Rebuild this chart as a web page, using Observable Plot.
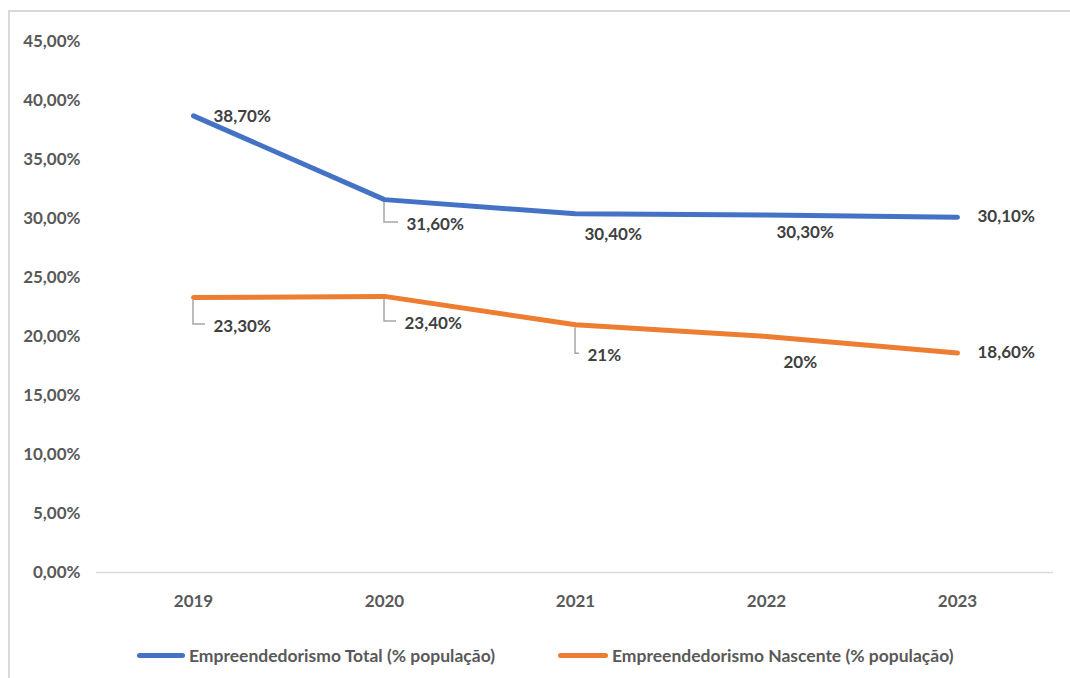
<!DOCTYPE html>
<html>
<head>
<meta charset="utf-8">
<script src="https://cdn.jsdelivr.net/npm/d3@7"></script>
<script src="https://cdn.jsdelivr.net/npm/@observablehq/plot@0.6"></script>
<style>
  body { margin: 0; background: #fff; font-family: Lato, "Open Sans", sans-serif; }
  #wrap { position: relative; width: 1070px; height: 678px; overflow: hidden; background: #fff; }
  #frame { position: absolute; left: 8px; top: 10px; width: 1100px; height: 700px;
           border-left: 2px solid #d9d9d9; border-top: 2px solid #d9d9d9; }
  #chart { position: absolute; left: 0; top: 0; }
  #legend { position: absolute; left: 0; top: 643px; width: 1070px; height: 24px;
            font-size: 17.5px; color: #595959; font-weight: 700; }
  .item { position: absolute; top: 0; display: flex; align-items: center; height: 24px; white-space: nowrap; }
  .swatch { display: inline-block; height: 5px; border-radius: 3px; margin-right: 4px; }
</style>
</head>
<body>
<div id="wrap">
  <div id="frame"></div>
  <div id="chart"></div>
  <div id="legend"></div>
</div>
<script>
// ---- data ----
const years = ["2019", "2020", "2021", "2022", "2023"];
const totalValues = [38.7, 31.6, 30.4, 30.3, 30.1];
const nascenteValues = [23.3, 23.4, 21, 20, 18.6];
const totalLabels = ["38,70%", "31,60%", "30,40%", "30,30%", "30,10%"];
const nascenteLabels = ["23,30%", "23,40%", "21%", "20%", "18,60%"];
const seriesNames = ["Empreendedorismo Total (% população)", "Empreendedorismo Nascente (% população)"];
const yTicks = [0, 5, 10, 15, 20, 25, 30, 35, 40, 45];

// ---- layout of data labels (pixel offsets from the point, leader line flag) ----
const totalOffsets = [[20, 1, false], [22, 25, true], [9, 21, false], [10, 18, false], [20, -1, false]];
const nascenteOffsets = [[20, 29, true], [20, 27, true], [12, 31, true], [17, 26, false], [20, 0, false]];
const colors = ["#4472C4", "#ED7D31"];

function build(values, labels, offsets, series) {
  return years.map((year, i) => ({
    year, value: values[i], label: labels[i], series,
    dx: offsets[i][0], dy: offsets[i][1], leader: offsets[i][2]
  }));
}
const total = build(totalValues, totalLabels, totalOffsets, seriesNames[0]);
const nascente = build(nascenteValues, nascenteLabels, nascenteOffsets, seriesNames[1]);
const all = total.concat(nascente);

const fmt = d => d.toFixed(2).replace(".", ",") + "%";

function leaders(data) {
  return (index, scales) => {
    const g = d3.create("svg:g")
      .attr("fill", "none").attr("stroke", "#a6a6a6").attr("stroke-width", 1.5);
    for (const d of data) {
      if (!d.leader) continue;
      const px = scales.x(d.year), py = scales.y(d.value);
      g.append("path").attr("d", `M${px},${py + 3}V${py + d.dy - 2}H${px + d.dx - 8}`);
    }
    return g.node();
  };
}

const labelMarks = all.map(d => Plot.text([d], {
  x: "year", y: "value", text: "label", dx: d.dx, dy: d.dy,
  textAnchor: "start", fill: "#404040", fontSize: 17, fontWeight: 700
}));

const chart = Plot.plot({
  width: 1070,
  height: 635,
  marginLeft: 96,
  marginRight: 17,
  marginTop: 41,
  marginBottom: 63,
  style: { fontFamily: "Lato, 'Open Sans', sans-serif", fontSize: "17px", color: "#595959", fontWeight: 700, background: "transparent" },
  x: { type: "point", domain: years, padding: 0.5, tickSize: 0, tickPadding: 22, label: null },
  y: { domain: [0, 45], ticks: yTicks, tickFormat: fmt, tickSize: 0, tickPadding: 16, label: null },
  color: { domain: seriesNames, range: colors },
  marks: [
    Plot.ruleY([0], { stroke: "#d9d9d9", strokeWidth: 1.5 }),
    leaders(all),
    Plot.line(total, { x: "year", y: "value", stroke: colors[0], strokeWidth: 5, strokeLinecap: "round", strokeLinejoin: "round" }),
    Plot.line(nascente, { x: "year", y: "value", stroke: colors[1], strokeWidth: 5, strokeLinecap: "round", strokeLinejoin: "round" }),
    ...labelMarks
  ]
});
document.getElementById("chart").appendChild(chart);

// ---- legend ----
const legendPos = [[137, 48], [558, 50]];
const legend = d3.select("#legend");
seriesNames.forEach((name, i) => {
  const item = legend.append("div").attr("class", "item").style("left", legendPos[i][0] + "px");
  item.append("span").attr("class", "swatch")
    .style("width", legendPos[i][1] + "px").style("background", colors[i]);
  item.append("span").text(name);
});
</script>
</body>
</html>
